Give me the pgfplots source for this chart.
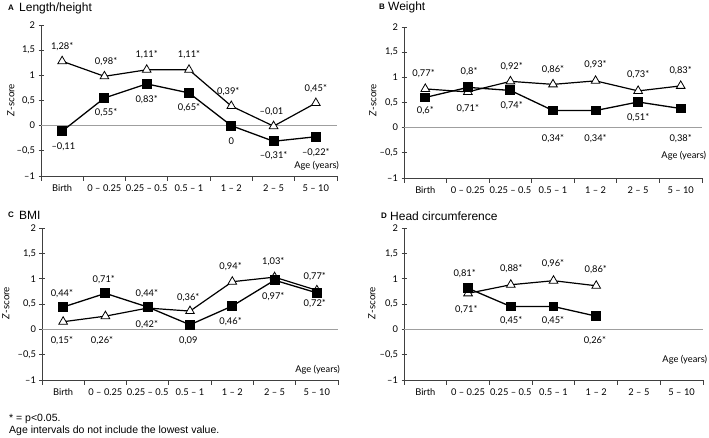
\documentclass[border=0pt]{standalone}
\usepackage{fontspec}
\setmainfont{Liberation Sans}
\newfontfamily\tickfont{Lato}
\usepackage{pgfplots}
\pgfplotsset{compat=1.18}

\pgfplotsset{
  panel/.style={
    scale only axis, anchor=south west,
    xmin=-0.5, xmax=6.5, ymin=-1, ymax=2,
    axis x line=bottom, axis y line=left,
    axis line style={-, black!75, line width=0.8pt},
    xtick={-0.5,0.5,...,6.5}, x tick label as interval,
    xticklabels={Birth, 0 – 0.25, 0.25 – 0.5, 0.5 – 1, 1 – 2, 2 – 5, 5 – 10},
    ytick={-1,-0.5,...,2},
    yticklabels={{–1},{–0,5},{0},{0,5},{1},{1,5},{2}},
    xtick align=outside, ytick align=center, major tick length=5pt,
    tick style={black!75, line width=0.8pt},
    ticklabel style={font=\tickfont\fontsize{9.3}{10}\selectfont},
    clip=false,
  },
  tri/.style={black, line width=1.2pt, mark=triangle*, mark size=5pt,
    mark options={fill=white, line width=0.8pt}},
  sq/.style={black, line width=1.3pt, mark=square*, mark size=4.3pt,
    mark options={solid}},
}
\tikzset{lab/.style={font=\tickfont\fontsize{9.3}{10}\selectfont, inner sep=0pt}}

\begin{document}
\begin{tikzpicture}
\path[use as bounding box] (0,0) rectangle (709pt,438pt);

% A Length/height
\begin{axis}[panel, at={(41pt,262pt)}, width=296pt, height=151pt]
\draw[gray!75, line width=1pt] (axis cs:-0.5,0) -- (axis cs:6.5,0);
\addplot[tri] coordinates {(0,1.28)(1,0.98)(2,1.11)(3,1.11)(4,0.39)(5,-0.01)(6,0.45)};
\addplot[sq] coordinates {(0,-0.11)(1,0.55)(2,0.83)(3,0.65)(4,0)(5,-0.31)(6,-0.22)};
\node[lab] at (axis cs:0,1.57) {1,28*};
\node[lab] at (axis cs:1.04,1.27) {0,98*};
\node[lab] at (axis cs:2,1.41) {1,11*};
\node[lab] at (axis cs:3,1.41) {1,11*};
\node[lab] at (axis cs:3.93,0.68) {0,39*};
\node[lab] at (axis cs:4.95,0.28) {–0,01};
\node[lab] at (axis cs:6,0.73) {0,45*};
\node[lab] at (axis cs:0.03,-0.41) {–0,11};
\node[lab] at (axis cs:1.04,0.25) {0,55*};
\node[lab] at (axis cs:2,0.51) {0,83*};
\node[lab] at (axis cs:3,0.35) {0,65*};
\node[lab] at (axis cs:4,-0.31) {0};
\node[lab] at (axis cs:5,-0.59) {–0,31*};
\node[lab] at (axis cs:6,-0.54) {–0,22*};
\node[lab, anchor=east] at (axis cs:6.55,-0.8) {Age (years)};
\end{axis}

% B Weight
\begin{axis}[panel, at={(404pt,260pt)}, width=298pt, height=151pt]
\draw[gray!75, line width=1pt] (axis cs:-0.5,0) -- (axis cs:6.5,0);
\addplot[tri] coordinates {(0,0.77)(1,0.71)(2,0.92)(3,0.86)(4,0.93)(5,0.73)(6,0.83)};
\addplot[sq] coordinates {(0,0.6)(1,0.8)(2,0.74)(3,0.34)(4,0.34)(5,0.51)(6,0.38)};
\node[lab] at (axis cs:-0.04,1.07) {0,77*};
\node[lab] at (axis cs:0,0.34) {0,6*};
\node[lab] at (axis cs:1.03,1.11) {0,8*};
\node[lab] at (axis cs:1,0.38) {0,71*};
\node[lab] at (axis cs:2.03,1.21) {0,92*};
\node[lab] at (axis cs:2.03,0.44) {0,74*};
\node[lab] at (axis cs:3,1.16) {0,86*};
\node[lab] at (axis cs:3,-0.21) {0,34*};
\node[lab] at (axis cs:4,1.25) {0,93*};
\node[lab] at (axis cs:4,-0.21) {0,34*};
\node[lab] at (axis cs:5,1.05) {0,73*};
\node[lab] at (axis cs:5,0.19) {0,51*};
\node[lab] at (axis cs:6,1.13) {0,83*};
\node[lab] at (axis cs:6,-0.21) {0,38*};
\node[lab, anchor=east] at (axis cs:6.6,-0.55) {Age (years)};
\end{axis}

% C BMI
\begin{axis}[panel, at={(42pt,58pt)}, width=296pt, height=152pt]
\draw[gray!75, line width=1pt] (axis cs:-0.5,0) -- (axis cs:6.5,0);
\addplot[tri] coordinates {(0,0.15)(1,0.26)(2,0.42)(3,0.36)(4,0.94)(5,1.03)(6,0.77)};
\addplot[sq] coordinates {(0,0.44)(1,0.71)(2,0.44)(3,0.09)(4,0.46)(5,0.97)(6,0.72)};
\node[lab] at (axis cs:-0.03,0.71) {0,44*};
\node[lab] at (axis cs:-0.03,-0.22) {0,15*};
\node[lab] at (axis cs:0.96,0.99) {0,71*};
\node[lab] at (axis cs:0.92,-0.22) {0,26*};
\node[lab] at (axis cs:1.98,0.71) {0,44*};
\node[lab] at (axis cs:1.98,0.1) {0,42*};
\node[lab] at (axis cs:2.96,0.62) {0,36*};
\node[lab] at (axis cs:2.96,-0.23) {0,09};
\node[lab] at (axis cs:3.96,1.23) {0,94*};
\node[lab] at (axis cs:3.96,0.15) {0,46*};
\node[lab] at (axis cs:4.97,1.33) {1,03*};
\node[lab] at (axis cs:4.97,0.65) {0,97*};
\node[lab] at (axis cs:5.95,1.05) {0,77*};
\node[lab] at (axis cs:5.95,0.5) {0,72*};
\node[lab, anchor=east] at (axis cs:6.55,-0.8) {Age (years)};
\end{axis}

% D Head circumference
\begin{axis}[panel, at={(404pt,58pt)}, width=299pt, height=152pt]
\draw[gray!75, line width=1pt] (axis cs:-0.5,0) -- (axis cs:6.5,0);
\addplot[tri] coordinates {(1,0.71)(2,0.88)(3,0.96)(4,0.86)};
\addplot[sq] coordinates {(1,0.81)(2,0.45)(3,0.45)(4,0.26)};
\node[lab] at (axis cs:0.92,1.09) {0,81*};
\node[lab] at (axis cs:0.96,0.38) {0,71*};
\node[lab] at (axis cs:2.01,1.2) {0,88*};
\node[lab] at (axis cs:2.01,0.18) {0,45*};
\node[lab] at (axis cs:2.99,1.29) {0,96*};
\node[lab] at (axis cs:2.99,0.18) {0,45*};
\node[lab] at (axis cs:3.99,1.17) {0,86*};
\node[lab] at (axis cs:3.97,-0.22) {0,26*};
\node[lab, anchor=east] at (axis cs:6.6,-0.6) {Age (years)};
\end{axis}

% titles
\node[anchor=west, inner sep=0pt, font=\bfseries\fontsize{8}{9}\selectfont] at (8pt,430pt) {A};
\node[anchor=west, inner sep=0pt, font=\fontsize{12}{13}\selectfont] at (19pt,430pt) {Length/height};
\node[anchor=west, inner sep=0pt, font=\bfseries\fontsize{8}{9}\selectfont] at (379pt,431pt) {B};
\node[anchor=west, inner sep=0pt, font=\fontsize{12}{13}\selectfont] at (388pt,431pt) {Weight};
\node[anchor=west, inner sep=0pt, font=\bfseries\fontsize{8}{9}\selectfont] at (8pt,223pt) {C};
\node[anchor=west, inner sep=0pt, font=\fontsize{12}{13}\selectfont] at (19pt,223pt) {BMI};
\node[anchor=west, inner sep=0pt, font=\bfseries\fontsize{8}{9}\selectfont] at (381pt,222pt) {D};
\node[anchor=west, inner sep=0pt, font=\fontsize{12}{13}\selectfont] at (390pt,222pt) {Head circumference};

% y labels
\node[rotate=90, inner sep=0pt, font=\tickfont\fontsize{9.8}{10}\selectfont] at (11pt,338pt) {\textit{Z}-score};
\node[rotate=90, inner sep=0pt, font=\tickfont\fontsize{9.8}{10}\selectfont] at (373pt,338pt) {\textit{Z}-score};
\node[rotate=90, inner sep=0pt, font=\tickfont\fontsize{9.8}{10}\selectfont] at (6pt,135pt) {\textit{Z}-score};
\node[rotate=90, inner sep=0pt, font=\tickfont\fontsize{9.8}{10}\selectfont] at (372pt,135pt) {\textit{Z}-score};

% footnote
\node[anchor=west, inner sep=0pt, font=\fontsize{10.5}{12}\selectfont] at (9pt,19pt) {* = p<0.05.};
\node[anchor=west, inner sep=0pt, font=\fontsize{10.5}{12}\selectfont] at (9pt,7pt) {Age intervals do not include the lowest value.};
\end{tikzpicture}
\end{document}
